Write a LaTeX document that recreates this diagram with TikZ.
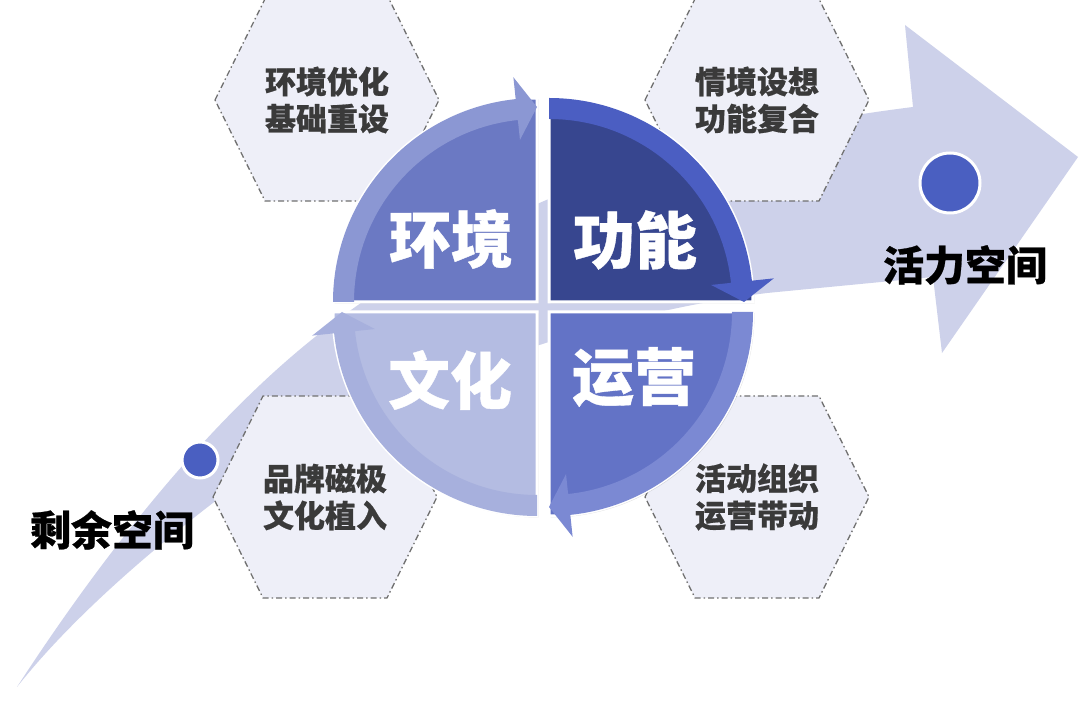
\documentclass[tikz,border=0pt]{standalone}
\usepackage{fontspec}
\newfontfamily\cjk{Noto Sans CJK SC}[BoldFeatures={FakeBold=0.6}]
\usetikzlibrary{shadows}

\definecolor{bandgray}{HTML}{CDD1EA}
\definecolor{hexfill}{HTML}{EEEFF8}
\definecolor{dashgray}{HTML}{707070}
\definecolor{hexink}{HTML}{3A3A3A}
\definecolor{spotblue}{HTML}{4A5FC1}
\definecolor{envfill}{HTML}{6B79C3}
\definecolor{envring}{HTML}{8B97D3}
\definecolor{funfill}{HTML}{37468F}
\definecolor{funring}{HTML}{4B5EC2}
\definecolor{opsfill}{HTML}{6373C6}
\definecolor{opsring}{HTML}{7B89D3}
\definecolor{culfill}{HTML}{B4BCE2}
\definecolor{culring}{HTML}{A7B0DD}

\tikzset{
  hexbox/.style={fill=hexfill, draw=dashgray, line width=1.3pt,
    dash pattern=on 6pt off 3pt on 1.5pt off 3pt},
  hextext/.style={text=hexink, align=center,
    font=\cjk\bfseries\fontsize{31}{37}\selectfont},
  quadtext/.style={text=white, font=\cjk\bfseries\fontsize{62}{62}\selectfont},
  spacetext/.style={text=black, font=\cjk\bfseries\fontsize{41}{41}\selectfont},
  quadshape/.style={draw=white, line width=3pt,
    drop shadow={opacity=0.25, shadow xshift=1.5pt, shadow yshift=-1.5pt}},
  spotdot/.style={circle, fill=spotblue, draw=white, line width=3pt, inner sep=0pt},
}

% corner, start angle, fill colour, ring colour
\newcommand{\quadrant}[4]{%
  \filldraw[quadshape, fill=#3, shift={(#1)}] (0,0) -- (#2:204pt)
    arc[start angle=#2, end angle=#2-90, radius=204pt] -- cycle;
  \fill[#4, shift={(#1)}] (#2:204pt)
    arc[start angle=#2, end angle=#2-84, radius=204pt]
    -- ({#2-84}:226pt) -- ({#2-90}:195pt) -- ({#2-84}:163pt) -- ({#2-84}:183pt)
    arc[start angle=#2-84, end angle=#2, radius=183pt] -- cycle;
}

\begin{document}
\begin{tikzpicture}[x=1pt, y=1pt]
  \useasboundingbox[fill=white] (0,0) rectangle (1080,712);

  % the sweeping band
  \fill[bandgray] (17,25) .. controls (80,122) and (200,292) .. (340,394)
    .. controls (480,497) and (650,572) .. (913,605)
    -- (905,687) -- (1078,555) -- (942,359) -- (933,435) -- (767,419)
    .. controls (550,392) and (330,292) .. (230,222)
    .. controls (150,162) and (70,92) .. (17,25) -- cycle;

  % hexagons
  \foreach \hx/\hy/\nm/\la/\lb in {327/612/env/环境优化/基础重设,
      757/612/fun/情境设想/功能复合,
      325/215/cul/品牌磁极/文化植入,
      757/215/ops/活动组织/运营带动} {
    \draw[hexbox] (\hx,\hy) ++(-112,0) -- ++(50,101) -- ++(124,0)
      -- ++(50,-101) -- ++(-50,-101) -- ++(-124,0) -- cycle;
    \node[hextext] (hex-\nm) at (\hx,\hy) {\la\\\lb};
  }

  \node[spotdot, minimum size=36pt] (startdot) at (200,252) {};
  \node[spotdot, minimum size=60pt] (enddot) at (950,529) {};

  \node[spacetext] (restspace) at (112,182) {剩余空间};
  \node[spacetext] (livespace) at (965,447) {活力空间};

  % the four quadrants
  \quadrant{537,410}{180}{envfill}{envring}
  \quadrant{549,410}{90}{funfill}{funring}
  \quadrant{549,400}{0}{opsfill}{opsring}
  \quadrant{537,400}{270}{culfill}{culring}

  \node[quadtext] (env) at (451,473) {环境};
  \node[quadtext] (fun) at (635,472) {功能};
  \node[quadtext] (cul) at (450,332) {文化};
  \node[quadtext] (ops) at (634,335) {运营};
\end{tikzpicture}
\end{document}
